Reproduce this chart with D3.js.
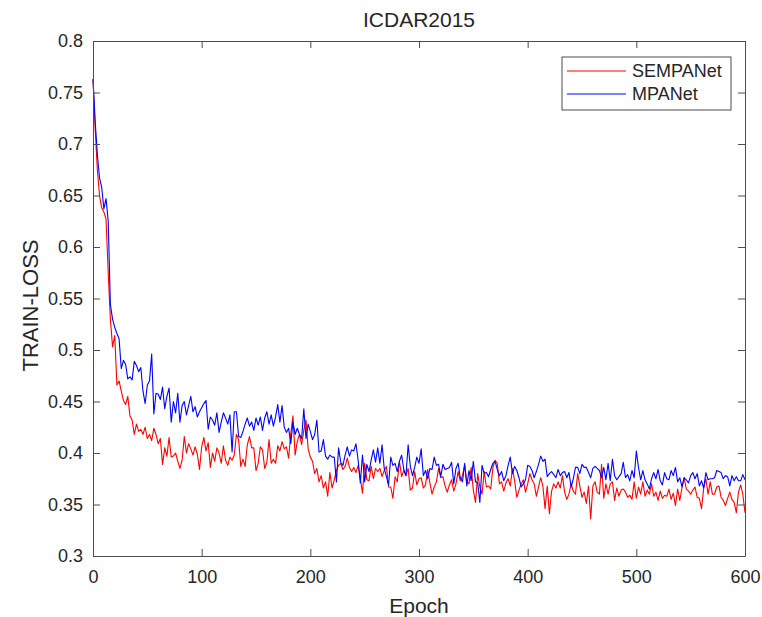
<!DOCTYPE html>
<html lang="en">
	<head>
		<meta charset="utf-8">
		<title>ICDAR2015 train loss</title>
		<script type="text/javascript" src="https://cdn.jsdelivr.net/npm/d3@7"></script>
		<style type="text/css">
			body {
				margin: 0;
				background: white;
			}
			text {
				font-family: "Liberation Sans", Arial, sans-serif;
				fill: #262626;
			}
			.axis path,
			.axis line {
				fill: none;
				stroke: #4d4d4d;
			}
			.axis text {
				font-size: 18px;
			}
		</style>
	</head>
	<body>
		<script type="text/javascript">

			//SVG width and height
			var w = 762;
			var h = 617;
			var margin = {left: 93, right: 17, top: 41, bottom: 61};

			// Legend names and colours
			var seriesNames = ["SEMPANet", "MPANet"];
			var seriesColors = ["#ff0000", "#0000ff"];

			// Tick values
			var xTicks = [0, 100, 200, 300, 400, 500, 600];
			var yTicks = [0.3, 0.35, 0.4, 0.45, 0.5, 0.55, 0.6, 0.65, 0.7, 0.75, 0.8];

			var sempanetLoss = [
				0.763,0.715,0.675,0.650,0.638,0.634,0.627,0.575,0.530,0.503,
				0.514,0.466,0.470,0.460,0.451,0.447,0.455,0.436,0.432,0.418,
				0.428,0.421,0.423,0.418,0.425,0.414,0.418,0.412,0.424,0.418,
				0.409,0.414,0.389,0.405,0.397,0.415,0.396,0.397,0.400,0.392,
				0.385,0.393,0.416,0.400,0.409,0.404,0.398,0.406,0.399,0.384,
				0.406,0.415,0.402,0.410,0.386,0.400,0.392,0.405,0.400,0.390,
				0.407,0.393,0.388,0.396,0.393,0.398,0.418,0.413,0.387,0.394,
				0.387,0.408,0.416,0.405,0.405,0.383,0.390,0.406,0.403,0.385,
				0.391,0.413,0.390,0.394,0.390,0.407,0.402,0.411,0.404,0.406,
				0.395,0.419,0.436,0.398,0.411,0.418,0.408,0.422,0.432,0.404,
				0.396,0.392,0.380,0.385,0.372,0.378,0.366,0.372,0.358,0.381,
				0.366,0.374,0.383,0.388,0.390,0.384,0.387,0.395,0.386,0.382,
				0.386,0.381,0.388,0.375,0.361,0.390,0.374,0.373,0.387,0.375,
				0.385,0.382,0.385,0.377,0.383,0.387,0.367,0.367,0.356,0.377,
				0.372,0.392,0.377,0.383,0.378,0.385,0.364,0.366,0.382,0.369,
				0.375,0.376,0.366,0.369,0.384,0.371,0.360,0.367,0.372,0.385,
				0.376,0.377,0.368,0.362,0.369,0.374,0.363,0.370,0.382,0.373,
				0.378,0.388,0.372,0.370,0.386,0.364,0.352,0.380,0.367,0.360,
				0.382,0.367,0.368,0.365,0.386,0.393,0.390,0.370,0.372,0.363,
				0.371,0.375,0.368,0.385,0.373,0.357,0.364,0.370,0.374,0.362,
				0.370,0.380,0.374,0.370,0.358,0.367,0.376,0.368,0.346,0.368,
				0.341,0.363,0.370,0.366,0.372,0.366,0.378,0.362,0.355,0.360,
				0.370,0.363,0.360,0.380,0.368,0.357,0.362,0.351,0.368,0.336,
				0.368,0.372,0.362,0.360,0.389,0.356,0.370,0.360,0.370,0.372,
				0.354,0.366,0.358,0.364,0.365,0.362,0.357,0.359,0.355,0.372,
				0.356,0.367,0.360,0.372,0.358,0.364,0.360,0.370,0.358,0.362,
				0.354,0.363,0.356,0.359,0.358,0.365,0.355,0.361,0.349,0.365,
				0.354,0.366,0.376,0.365,0.363,0.360,0.364,0.367,0.357,0.356,
				0.346,0.366,0.375,0.360,0.372,0.360,0.360,0.367,0.368,0.357,
				0.354,0.349,0.356,0.362,0.355,0.352,0.342,0.362,0.369,0.360,
				0.342
			];

			var mpanetLoss = [
				0.763,0.722,0.690,0.667,0.658,0.637,0.647,0.625,0.544,0.530,
				0.522,0.516,0.511,0.482,0.490,0.486,0.472,0.474,0.471,0.489,
				0.485,0.479,0.483,0.460,0.448,0.466,0.470,0.496,0.438,0.458,
				0.457,0.452,0.464,0.443,0.455,0.463,0.430,0.450,0.439,0.458,
				0.430,0.446,0.450,0.437,0.446,0.455,0.440,0.445,0.435,0.440,
				0.444,0.448,0.451,0.423,0.435,0.432,0.427,0.439,0.420,0.430,
				0.439,0.434,0.428,0.437,0.401,0.440,0.440,0.416,0.415,0.421,
				0.428,0.434,0.426,0.430,0.422,0.434,0.427,0.435,0.422,0.434,
				0.440,0.428,0.437,0.426,0.435,0.447,0.430,0.446,0.425,0.420,
				0.424,0.409,0.430,0.418,0.424,0.418,0.414,0.443,0.414,0.428,
				0.421,0.413,0.418,0.432,0.401,0.402,0.413,0.397,0.394,0.398,
				0.396,0.396,0.372,0.405,0.391,0.388,0.398,0.406,0.397,0.403,
				0.402,0.409,0.393,0.371,0.398,0.372,0.389,0.382,0.393,0.403,
				0.391,0.405,0.390,0.408,0.385,0.377,0.369,0.396,0.388,0.390,
				0.382,0.392,0.398,0.384,0.378,0.408,0.387,0.378,0.386,0.396,
				0.390,0.404,0.378,0.383,0.375,0.385,0.384,0.396,0.388,0.389,
				0.377,0.389,0.384,0.385,0.386,0.391,0.370,0.385,0.390,0.376,
				0.372,0.390,0.368,0.383,0.373,0.392,0.372,0.371,0.352,0.388,
				0.380,0.381,0.377,0.384,0.390,0.392,0.384,0.378,0.382,0.373,
				0.378,0.388,0.396,0.380,0.387,0.383,0.376,0.367,0.370,0.374,
				0.388,0.387,0.383,0.376,0.382,0.389,0.397,0.392,0.394,0.377,
				0.380,0.382,0.379,0.376,0.384,0.378,0.381,0.382,0.376,0.381,
				0.367,0.375,0.386,0.386,0.380,0.389,0.386,0.386,0.381,0.376,
				0.385,0.387,0.385,0.383,0.376,0.386,0.374,0.390,0.373,0.394,
				0.378,0.374,0.377,0.380,0.391,0.376,0.379,0.373,0.383,0.376,
				0.402,0.386,0.374,0.383,0.374,0.370,0.365,0.375,0.381,0.375,
				0.384,0.373,0.369,0.381,0.375,0.374,0.383,0.378,0.386,0.372,
				0.376,0.367,0.376,0.374,0.371,0.378,0.381,0.375,0.380,0.368,
				0.373,0.366,0.381,0.374,0.375,0.375,0.376,0.383,0.382,0.381,
				0.375,0.378,0.377,0.368,0.378,0.373,0.377,0.373,0.373,0.379,
				0.374
			];

			var epochStep = 2;
			var series = [sempanetLoss, mpanetLoss];

			// Scales
			var xScale = d3.scaleLinear()
								.domain([0, 600])
								.range([margin.left, w - margin.right]);

			var yScale = d3.scaleLinear()
								.domain([0.3, 0.8])
								.range([h - margin.bottom, margin.top]);

			var svg = d3.select("body")
						.append("svg")
						.attr("width", w)
						.attr("height", h);

			svg.append("rect")
				.attr("width", w)
				.attr("height", h)
				.attr("fill", "white");

			// Axes, ticks pointing inwards on all four sides
			var tickLen = 7;
			var xAxis = d3.axisBottom(xScale).tickValues(xTicks).tickSizeInner(-tickLen).tickSizeOuter(0).tickPadding(14);
			var xAxisTop = d3.axisTop(xScale).tickValues(xTicks).tickSizeInner(-tickLen).tickSizeOuter(0).tickFormat("");
			var yAxis = d3.axisLeft(yScale).tickValues(yTicks).tickSizeInner(-tickLen).tickSizeOuter(0).tickPadding(10)
							.tickFormat(function(d) { return String(+d.toFixed(2)); });
			var yAxisRight = d3.axisRight(yScale).tickValues(yTicks).tickSizeInner(-tickLen).tickSizeOuter(0).tickFormat("");

			// Lines
			var line = d3.line()
						.x(function(d, i) { return xScale(i * epochStep); })
						.y(function(d) { return yScale(d); });

			svg.append("g")
				.selectAll("path")
				.data(series)
				.enter()
				.append("path")
				.attr("d", line)
				.attr("fill", "none")
				.attr("stroke", function(d, i) { return seriesColors[i]; })
				.attr("stroke-width", 1.1)
				.attr("stroke-linejoin", "round");

			svg.append("g")
				.attr("class", "x axis")
				.attr("transform", "translate(0," + (h - margin.bottom) + ")")
				.call(xAxis);
			svg.append("g")
				.attr("class", "x axis")
				.attr("transform", "translate(0," + margin.top + ")")
				.call(xAxisTop);
			svg.append("g")
				.attr("class", "y axis")
				.attr("transform", "translate(" + margin.left + ",0)")
				.call(yAxis);
			svg.append("g")
				.attr("class", "y axis")
				.attr("transform", "translate(" + (w - margin.right) + ",0)")
				.call(yAxisRight);

			// Title and axis labels
			var cx = (margin.left + w - margin.right) / 2;
			svg.append("text")
				.attr("x", cx)
				.attr("y", 27)
				.attr("text-anchor", "middle")
				.style("font-size", "21px")
				.text("ICDAR2015");

			svg.append("text")
				.attr("x", cx)
				.attr("y", 613)
				.attr("text-anchor", "middle")
				.style("font-size", "21px")
				.text("Epoch");

			svg.append("text")
				.attr("transform", "translate(38," + ((margin.top + h - margin.bottom) / 2 + 7) + ") rotate(-90)")
				.attr("text-anchor", "middle")
				.style("font-size", "22px")
				.text("TRAIN-LOSS");

			// Legend
			var legend = svg.append("g")
							.attr("transform", "translate(562,57)");

			legend.append("rect")
				.attr("width", 169)
				.attr("height", 53)
				.attr("fill", "white")
				.attr("stroke", "#4d4d4d");

			var item = legend.selectAll(".item")
							.data(seriesNames)
							.enter()
							.append("g")
							.attr("class", "item")
							.attr("transform", function(d, i) { return "translate(0," + (14 + i * 23) + ")"; });

			item.append("line")
				.attr("x1", 5)
				.attr("x2", 64)
				.attr("stroke", function(d, i) { return seriesColors[i]; })
				.attr("stroke-width", 1.1);

			item.append("text")
				.attr("x", 70)
				.attr("dy", "0.35em")
				.style("font-size", "18px")
				.text(function(d) { return d; });

		</script>
	</body>
</html>
